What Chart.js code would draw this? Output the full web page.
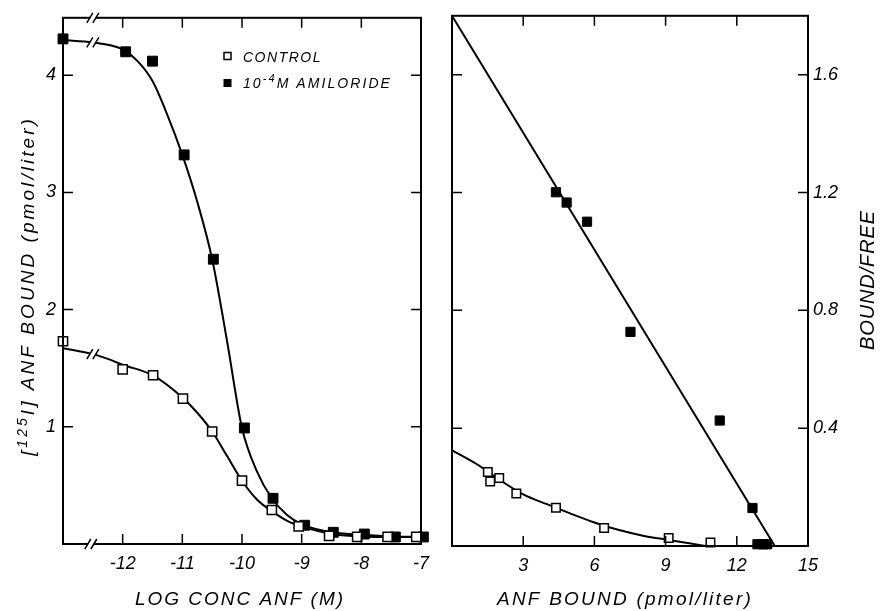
<!DOCTYPE html>
<html>
<head>
<meta charset="utf-8">
<script src="https://cdn.jsdelivr.net/npm/chart.js@4.4.0/dist/chart.umd.min.js"></script>
<style>
  html, body { margin: 0; padding: 0; background: #fff; }
  #wrap { position: relative; width: 884px; height: 611px; overflow: hidden; }
  #c1 { position: absolute; left: 0; top: 0; }
  #c2 { position: absolute; left: 440px; top: 0; }
</style>
</head>
<body>
<div id="wrap">
  <canvas id="c1" width="440" height="611"></canvas>
  <canvas id="c2" width="444" height="611"></canvas>
</div>
<script>
// left panel: displacement of [125I]ANF by unlabelled ANF
const ctrlLogConc = [-13, -12, -11.49, -10.99, -10.5, -10, -9.5, -9.05, -8.54, -8.07, -7.56, -7.08];
const ctrlBound   = [1.73, 1.49, 1.44, 1.24, 0.96, 0.54, 0.29, 0.15, 0.07, 0.06, 0.06, 0.06];
const amilLogConc = [-13, -11.95, -11.5, -10.97, -10.48, -9.96, -9.48, -8.95, -8.47, -7.95, -7.43, -6.96];
const amilBound   = [4.31, 4.20, 4.12, 3.32, 2.43, 0.99, 0.39, 0.16, 0.10, 0.085, 0.06, 0.06];

// fitted curves
const ctrlFitX = [-13, -12.5, -12.25, -12, -11.5, -11, -10.75, -10.5, -10.25, -10, -9.75, -9.5, -9.25, -9, -8.5, -8, -7.5, -7];
const ctrlFitY = [1.67, 1.62, 1.58, 1.53, 1.44, 1.25, 1.12, 0.96, 0.75, 0.54, 0.38, 0.28, 0.20, 0.15, 0.085, 0.065, 0.06, 0.06];
const amilFitX = [-13, -12.5, -12.25, -12, -11.75, -11.5, -11.25, -11, -10.75, -10.5, -10.25, -10, -9.75, -9.5, -9.25, -9, -8.5, -8, -7.5, -7];
const amilFitY = [4.30, 4.28, 4.26, 4.22, 4.12, 3.95, 3.66, 3.32, 2.92, 2.43, 1.73, 0.99, 0.62, 0.39, 0.25, 0.17, 0.10, 0.08, 0.065, 0.06];

// right panel: Scatchard plot
const ctrlBoundR = [1.51, 1.61, 1.99, 2.71, 4.38, 6.41, 9.13, 10.89];
const ctrlRatio  = [0.251, 0.219, 0.231, 0.178, 0.130, 0.061, 0.027, 0.012];
const amilBoundR = [4.38, 4.83, 5.69, 7.52, 11.28, 12.66, 12.87, 13.12, 13.28];
const amilRatio  = [1.201, 1.166, 1.101, 0.727, 0.426, 0.129, 0.006, 0.006, 0.006];
const amilLineX  = [0, 13.6];
const amilLineY  = [1.8, 0];
const ctrlFitXR  = [0, 1, 2, 3, 4, 5, 6, 7, 8, 9, 10, 10.7];
const ctrlFitYR  = [0.325, 0.28, 0.225, 0.175, 0.142, 0.11, 0.08, 0.055, 0.036, 0.022, 0.009, 0];

const FONT = "'Liberation Sans', Arial, sans-serif";
const pts = (xs, ys) => xs.map((x, i) => ({ x, y: ys[i] }));

function markers(data, filled, r) {
  return {
    data, order: 0, showLine: false, clip: false,
    pointStyle: 'rect', pointRadius: r, pointHoverRadius: r,
    backgroundColor: filled ? '#000' : '#fff',
    borderColor: '#000', borderWidth: filled ? 1 : 1.5,
  };
}
function curve(data, monotone) {
  return {
    data, order: 1, showLine: true, clip: false,
    pointRadius: 0, borderColor: '#000', borderWidth: 2,
    cubicInterpolationMode: monotone ? 'monotone' : 'default', tension: 0,
  };
}

// run of text pieces [text, font, dy], letter-spaced to fill width, centred on cx
function textRun(ctx, parts, cx, cy, width) {
  ctx.letterSpacing = '0px';
  let natural = 0, n = 0;
  parts.forEach(([t, f]) => { ctx.font = f; natural += ctx.measureText(t).width; n += t.length; });
  const sp = (width - natural) / n;
  ctx.letterSpacing = sp + 'px';
  ctx.textAlign = 'left';
  ctx.textBaseline = 'middle';
  let x = cx - width / 2;
  parts.forEach(([t, f, dy]) => {
    ctx.font = f;
    ctx.fillText(t, x, cy + (dy || 0));
    x += ctx.measureText(t).width;
  });
  ctx.letterSpacing = '0px';
}

function breakMark(ctx, px, py) {
  ctx.save();
  ctx.fillStyle = '#fff';
  ctx.fillRect(px - 3, py - 2.5, 6, 5);
  ctx.strokeStyle = '#000';
  ctx.lineWidth = 1.5;
  ctx.beginPath();
  [-3, 3].forEach(o => {
    ctx.moveTo(px + o - 3, py + 5);
    ctx.lineTo(px + o + 3, py - 5);
  });
  ctx.stroke();
  ctx.restore();
}

const frame = {
  id: 'frame',
  afterDatasetsDraw(chart, args, opts) {
    const { ctx, chartArea: a, scales } = chart;
    const xs = scales.x, ys = scales.y;
    ctx.save();
    ctx.strokeStyle = '#000';
    ctx.lineWidth = 2;
    ctx.strokeRect(a.left, a.top, a.right - a.left, a.bottom - a.top);
    ctx.lineWidth = 1.5;
    ctx.beginPath();
    xs.ticks.forEach(t => {
      if (t.value <= xs.min || t.value >= xs.max) return;
      const p = xs.getPixelForValue(t.value);
      ctx.moveTo(p, a.bottom); ctx.lineTo(p, a.bottom - 10);
      ctx.moveTo(p, a.top); ctx.lineTo(p, a.top + 10);
    });
    ys.ticks.forEach(t => {
      if (t.value <= ys.min || t.value >= ys.max) return;
      const p = ys.getPixelForValue(t.value);
      ctx.moveTo(a.left, p); ctx.lineTo(a.left + 10, p);
      ctx.moveTo(a.right, p); ctx.lineTo(a.right - 10, p);
    });
    ctx.stroke();
    ctx.fillStyle = '#000';
    opts.draw && opts.draw(chart, ctx);
    ctx.restore();
  }
};

const tickFont = { family: FONT, style: 'italic', size: 18 };
const noGrid = { display: false, drawTicks: false };

new Chart(document.getElementById('c1'), {
  type: 'scatter',
  data: {
    datasets: [
      markers(pts(ctrlLogConc, ctrlBound), false, 6.5),
      markers(pts(amilLogConc, amilBound), true, 7),
      curve(pts(ctrlFitX, ctrlFitY), true),
      curve(pts(amilFitX, amilFitY), true),
    ]
  },
  options: {
    responsive: false,
    animation: false,
    layout: { padding: { left: 0, right: 19, top: 14, bottom: 0 } },
    plugins: {
      legend: { display: false },
      tooltip: { enabled: false },
      frame: {
        draw(chart, ctx) {
          const xs = chart.scales.x, ys = chart.scales.y;
          const bx = xs.getPixelForValue(-12.5);
          breakMark(ctx, bx, chart.chartArea.top);
          breakMark(ctx, bx - 2, chart.chartArea.bottom);
          breakMark(ctx, bx, ys.getPixelForValue(4.28));
          breakMark(ctx, bx, ys.getPixelForValue(1.62));

          // legend
          ctx.lineWidth = 1.5;
          ctx.strokeRect(224, 52.5, 7, 7);
          ctx.fillRect(223.5, 79, 8, 8);
          const lf = `italic 14px ${FONT}`;
          ctx.fillStyle = '#000';
          textRun(ctx, [['CONTROL', lf]], 282.5, 58.5, 79);
          textRun(ctx, [['10', lf], ['-4', `italic 11px ${FONT}`, -5], ['M AMILORIDE', lf]], 317.5, 84, 149);

          // axis titles
          textRun(ctx, [['LOG CONC ANF (M)', `italic 19px ${FONT}`]], 240, 600, 210);
          ctx.save();
          ctx.translate(29, 286);
          ctx.rotate(-Math.PI / 2);
          const tf = `italic 19px ${FONT}`;
          textRun(ctx, [['[', tf], ['125', `italic 14px ${FONT}`, -6], ['I] ANF BOUND (pmol/liter)', tf]], 0, 0, 340);
          ctx.restore();
        }
      }
    },
    scales: {
      x: {
        type: 'linear', min: -13, max: -7,
        afterFit: s => { s.height = 67; },
        grid: noGrid, border: { display: false },
        ticks: {
          stepSize: 1, includeBounds: false, padding: 9, color: '#000', font: tickFont,
          callback: v => v === -13 ? '' : String(v),
        },
      },
      y: {
        type: 'linear', min: 0, max: 4.49,
        afterFit: s => { s.width = 63; },
        grid: noGrid, border: { display: false },
        ticks: {
          stepSize: 1, includeBounds: false, padding: 7, color: '#000', font: tickFont,
          callback: v => v === 0 ? '' : String(v),
        },
      },
    },
  },
  plugins: [frame],
});

new Chart(document.getElementById('c2'), {
  type: 'scatter',
  data: {
    datasets: [
      markers(pts(ctrlBoundR, ctrlRatio), false, 6),
      markers(pts(amilBoundR, amilRatio), true, 6.5),
      curve(pts(ctrlFitXR, ctrlFitYR), true),
      curve(pts(amilLineX, amilLineY), false),
    ]
  },
  options: {
    responsive: false,
    animation: false,
    layout: { padding: { left: 12, right: 0, top: 14, bottom: 0 } },
    plugins: {
      legend: { display: false },
      tooltip: { enabled: false },
      frame: {
        draw(chart, ctx) {
          textRun(ctx, [['ANF BOUND (pmol/liter)', `italic 19px ${FONT}`]], 185, 600, 256);
          ctx.save();
          ctx.translate(428, 280);
          ctx.rotate(-Math.PI / 2);
          textRun(ctx, [['BOUND/FREE', `italic 20px ${FONT}`]], 0, 0, 140);
          ctx.restore();
        }
      }
    },
    scales: {
      x: {
        type: 'linear', min: 0, max: 15,
        afterFit: s => { s.height = 65; },
        grid: noGrid, border: { display: false },
        ticks: {
          stepSize: 3, includeBounds: false, padding: 9, color: '#000', font: tickFont,
          callback: v => v === 0 ? '' : String(v),
        },
      },
      y: {
        type: 'linear', position: 'right', min: 0, max: 1.8,
        afterFit: s => { s.width = 76; },
        grid: noGrid, border: { display: false },
        ticks: {
          stepSize: 0.4, includeBounds: false, padding: 5, color: '#000', font: tickFont,
          callback: v => v === 0 ? '' : v.toFixed(1),
        },
      },
    },
  },
  plugins: [frame],
});
</script>
</body>
</html>
